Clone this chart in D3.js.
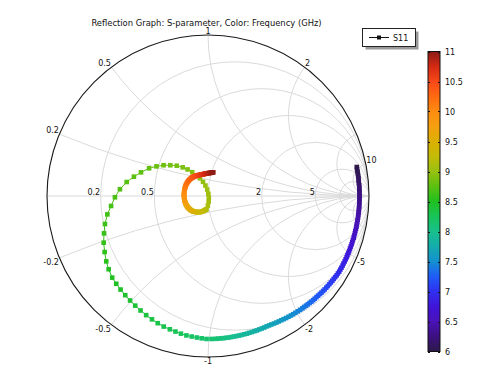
<!DOCTYPE html>
<html><head><meta charset="utf-8">
<script src="https://cdn.jsdelivr.net/npm/d3@7/dist/d3.min.js"></script>
<style>body{margin:0;background:#fff}svg{display:block}text{font-family:"DejaVu Sans",sans-serif;font-size:8px;fill:#111}</style>
</head><body><svg id="c" width="479" height="366"></svg>
<script>
const freqGHz=[6,6.02,6.04,6.06,6.08,6.1,6.12,6.14,6.16,6.18,6.2,6.22,6.24,6.26,6.28,6.3,6.32,6.34,6.36,6.38,
6.4,6.42,6.44,6.46,6.48,6.5,6.52,6.54,6.56,6.58,6.6,6.62,6.64,6.66,6.68,6.7,6.72,6.74,6.76,6.78,
6.8,6.82,6.84,6.86,6.88,6.9,6.92,6.94,6.96,6.98,7,7.02,7.04,7.06,7.08,7.1,7.12,7.14,7.16,7.18,
7.2,7.22,7.24,7.26,7.28,7.3,7.32,7.34,7.36,7.38,7.4,7.42,7.44,7.46,7.48,7.5,7.52,7.54,7.56,7.58,
7.6,7.62,7.64,7.66,7.68,7.7,7.72,7.74,7.76,7.78,7.8,7.82,7.84,7.86,7.88,7.9,7.92,7.94,7.96,7.98,
8,8.02,8.04,8.06,8.08,8.1,8.12,8.14,8.16,8.18,8.2,8.22,8.24,8.26,8.28,8.3,8.32,8.34,8.36,8.38,
8.4,8.42,8.44,8.46,8.48,8.5,8.52,8.54,8.56,8.58,8.6,8.62,8.64,8.66,8.68,8.7,8.72,8.74,8.76,8.78,
8.8,8.82,8.84,8.86,8.88,8.9,8.92,8.94,8.96,8.98,9,9.02,9.04,9.06,9.08,9.1,9.12,9.14,9.16,9.18,
9.2,9.22,9.24,9.26,9.28,9.3,9.32,9.34,9.36,9.38,9.4,9.42,9.44,9.46,9.48,9.5,9.52,9.54,9.56,9.58,
9.6,9.62,9.64,9.66,9.68,9.7,9.72,9.74,9.76,9.78,9.8,9.82,9.84,9.86,9.88,9.9,9.92,9.94,9.96,9.98,
10,10.02,10.04,10.06,10.08,10.1,10.12,10.14,10.16,10.18,10.2,10.22,10.24,10.26,10.28,10.3,10.32,10.34,10.36,10.38,
10.4,10.42,10.44,10.46,10.48,10.5,10.52,10.54,10.56,10.58,10.6,10.62,10.64,10.66,10.68,10.7,10.72,10.74,10.76,10.78,
10.8,10.82,10.84,10.86,10.88,10.9,10.92,10.94,10.96,10.98,11];
const s11Re=[.924,.926,.929,.931,.933,.935,.936,.937,.939,.940,
.940,.941,.941,.941,.941,.940,.940,.939,.938,.937,
.935,.933,.932,.929,.927,.924,.922,.919,.915,.912,
.908,.905,.900,.896,.892,.887,.882,.877,.872,.866,
.861,.855,.849,.842,.836,.829,.822,.815,.807,.799,
.790,.781,.772,.763,.754,.744,.735,.725,.715,.705,
.695,.684,.674,.663,.653,.642,.631,.620,.609,.597,
.586,.572,.558,.543,.529,.515,.500,.485,.470,.455,
.440,.425,.410,.394,.379,.364,.349,.334,.318,.303,
.288,.272,.256,.241,.225,.209,.193,.177,.161,.145,
.128,.112,.096,.080,.063,.047,.022,-.009,-.039,-.069,
-.101,-.134,-.168,-.202,-.237,
-.275,-.312,-.348,-.384,-.419,-.452,-.484,-.514,-.543,-.570,-.595,-.617,-.632,-.642,-.648,-.646,-.640,-.625,-.602,-.578,-.547,-.505,-.460,-.416,-.366,-.320,-.276,-.234,-.194,-.157,-.127,-.098,-.072,-.050,-.031,-.016,-.005,.002,.005,.004,-.001,-.010,
-.012,-.018,-.023,-.028,-.034,-.040,-.045,-.051,-.057,-.063,-.067,
-.072,-.077,-.082,-.087,-.091,-.096,-.100,-.105,-.109,-.113,-.117,-.120,-.124,-.127,-.130,-.132,-.135,-.138,-.139,-.141,
-.143,-.144,-.146,-.146,-.147,-.148,-.149,-.149,-.149,-.149,-.149,-.148,-.147,-.146,-.145,-.144,-.142,-.140,-.138,-.137,
-.134,-.130,-.127,-.124,-.120,-.116,-.112,-.107,-.104,-.100,-.096,-.093,-.089,-.085,-.081,-.076,-.072,-.068,-.064,-.060,
-.056,-.051,-.047,-.043,-.039,-.035,-.031,-.027,-.023,-.019,-.015,-.011,-.007,-.003,.001,.005,.009,.013,.017,.021,
.025,.029,.033];
const s11Im=[.180,.165,.151,.137,.123,.109,.095,.080,.066,.052,
.038,.023,.009,-.005,-.020,-.034,-.048,-.062,-.077,-.091,
-.105,-.119,-.134,-.148,-.162,-.176,-.190,-.204,-.218,-.232,
-.246,-.259,-.273,-.287,-.300,-.314,-.327,-.341,-.354,-.367,
-.380,-.393,-.406,-.419,-.432,-.445,-.457,-.470,-.481,-.493,
-.504,-.515,-.527,-.537,-.548,-.559,-.569,-.580,-.590,-.600,
-.609,-.619,-.628,-.638,-.647,-.656,-.664,-.673,-.681,-.689,
-.698,-.707,-.716,-.725,-.734,-.742,-.750,-.758,-.765,-.772,
-.779,-.786,-.792,-.798,-.804,-.810,-.817,-.823,-.829,-.835,
-.840,-.845,-.850,-.855,-.859,-.863,-.867,-.870,-.873,-.876,
-.879,-.881,-.883,-.884,-.886,-.887,-.888,-.888,-.884,-.879,
-.873,-.866,-.855,-.842,-.828,
-.811,-.790,-.766,-.740,-.711,-.681,-.649,-.616,-.581,-.545,-.507,-.455,-.406,-.348,-.290,-.232,-.174,-.114,-.062,-.008,.042,.087,.120,.147,.172,.184,.191,.191,.188,.178,.165,.148,.129,.110,.088,.065,.040,.014,-.011,-.036,-.060,-.082,
-.084,-.087,-.090,-.093,-.095,-.097,-.099,-.100,-.100,-.100,-.100,
-.100,-.099,-.098,-.097,-.096,-.094,-.091,-.089,-.086,-.083,-.079,-.076,-.072,-.068,-.064,-.059,-.055,-.051,-.046,-.041,
-.036,-.031,-.027,-.021,-.016,-.011,-.006,-.001,.005,.011,.017,.023,.029,.035,.041,.047,.053,.059,.064,.070,
.075,.081,.086,.091,.096,.100,.104,.109,.111,.113,.115,.118,.120,.121,.123,.124,.126,.127,.128,.129,
.130,.131,.132,.133,.134,.134,.135,.136,.137,.138,.139,.139,.140,.141,.142,.142,.143,.144,.144,.145,
.146,.147,.147];
const cbStops=[6,6.25,6.5,6.75,7,7.25,7.5,7.75,8,8.25,8.5,8.75,9,9.25,9.5,9.75,10,10.25,10.5,10.75,11];
const cbColors=["#2d1a4a","#3c1080","#4a12b8","#4014d8","#3030f0","#1e5cf8","#1490d0","#14acac","#18c08c","#18c458","#20c020","#5cc010","#98c010","#c4bc08","#dcb000","#f4a010","#ff8c10","#ff6a10","#f84818","#d42a14","#8c1c14"];
const cbTicks=[6,6.5,7,7.5,8,8.5,9,9.5,10,10.5,11];
const gridR=[0.2,0.5,1,2,5,10];
const gridX=[0.2,0.5,1,2,5,10,-0.2,-0.5,-1,-2,-5,-10];
const rLabelVals=[0.2,0.5,2,5];
const xLabelVals=[0.2,0.5,1,2,10,-0.2,-0.5,-1,-2,-5];
const titleText="Reflection Graph: S-parameter, Color: Frequency (GHz)";
const seriesName="S11";

const svg=d3.select("#c");
const cx=208, cy=196, R=161;
const x=d3.scaleLinear().domain([-1,1]).range([cx-R,cx+R]);
const y=d3.scaleLinear().domain([-1,1]).range([cy+R,cy-R]);
const k=R;
const color=d3.scaleLinear().domain(cbStops).range(cbColors).clamp(true);

const defs=svg.append("defs");
defs.append("clipPath").attr("id","uc").append("circle").attr("cx",x(0)).attr("cy",y(0)).attr("r",k);

const grid=svg.append("g").attr("clip-path","url(#uc)").attr("fill","none").attr("stroke","#dadada").attr("stroke-width",1);
gridR.forEach(r=>{grid.append("circle").attr("cx",x(r/(r+1))).attr("cy",y(0)).attr("r",k/(r+1));});
gridX.forEach(v=>{grid.append("circle").attr("cx",x(1)).attr("cy",y(1/v)).attr("r",k/Math.abs(v));});
grid.append("line").attr("x1",x(-1)).attr("x2",x(1)).attr("y1",y(0)).attr("y2",y(0));
svg.append("circle").attr("cx",x(0)).attr("cy",y(0)).attr("r",k).attr("fill","none").attr("stroke","#1a1a1a").attr("stroke-width",1.1);

rLabelVals.forEach(r=>{svg.append("text").attr("x",x((r-1)/(r+1))-0.5).attr("y",y(0)-1.5).attr("text-anchor","end").text(r);});
xLabelVals.forEach(v=>{
  const gr=(v*v-1)/(v*v+1), gi=2*v/(v*v+1);
  const px=x(gr), py=y(gi);
  const anchor=gr<-0.01?"end":(gr>0.01?"start":"middle");
  svg.append("text").attr("x",px+(anchor==="start"?0.5:(anchor==="end"?-0.5:0))).attr("y",v>0?py-1.5:py+6.8).attr("text-anchor",anchor).text(v);
});

const pts=freqGHz.map((f,i)=>({f,re:s11Re[i],im:s11Im[i]}));
const dg=svg.append("g");
const ms=4.6;
pts.forEach((p,i)=>{
  if(i>0){const q=pts[i-1];
    dg.append("line").attr("x1",x(q.re)).attr("y1",y(q.im)).attr("x2",x(p.re)).attr("y2",y(p.im)).attr("stroke",color(p.f)).attr("stroke-width",1);}
  dg.append("rect").attr("x",x(p.re)-ms/2).attr("y",y(p.im)-ms/2).attr("width",ms).attr("height",ms).attr("fill",color(p.f));
});

svg.append("text").attr("x",206.5).attr("y",26).attr("text-anchor","middle").style("font-size","8.4px").text(titleText);

const lg=svg.append("g");
lg.append("rect").attr("x",365.5).attr("y",31.5).attr("width",53).attr("height",18).attr("fill","#9a9a9a");
lg.append("rect").attr("x",362.5).attr("y",28.5).attr("width",53).attr("height",18).attr("fill","#fff").attr("stroke","#222").attr("stroke-width",1);
lg.append("line").attr("x1",369).attr("x2",389).attr("y1",37.5).attr("y2",37.5).attr("stroke","#111").attr("stroke-width",1);
lg.append("rect").attr("x",377).attr("y",35.5).attr("width",4).attr("height",4).attr("fill","#111");
lg.append("text").attr("x",393).attr("y",40.5).text(seriesName);

const cbX=428, cbW=12;
const cbY=d3.scaleLinear().domain([6,11]).range([351.5,51.5]);
const grad=defs.append("linearGradient").attr("id","cbg").attr("x1",0).attr("y1",1).attr("x2",0).attr("y2",0);
cbStops.forEach((s,i)=>grad.append("stop").attr("offset",(s-6)/5).attr("stop-color",cbColors[i]));
svg.append("rect").attr("x",cbX).attr("y",cbY(11)).attr("width",cbW).attr("height",cbY(6)-cbY(11)).attr("fill","url(#cbg)").attr("stroke","#111").attr("stroke-width",1);
cbTicks.forEach(t=>{
  const ty=Math.round(cbY(t))+0.5;
  svg.append("line").attr("x1",cbX).attr("x2",cbX+2).attr("y1",ty).attr("y2",ty).attr("stroke","#111");
  svg.append("line").attr("x1",cbX+cbW-2).attr("x2",cbX+cbW).attr("y1",ty).attr("y2",ty).attr("stroke","#111");
  svg.append("text").attr("x",445).attr("y",cbY(t)+3).text(t);
});
</script></body></html>
